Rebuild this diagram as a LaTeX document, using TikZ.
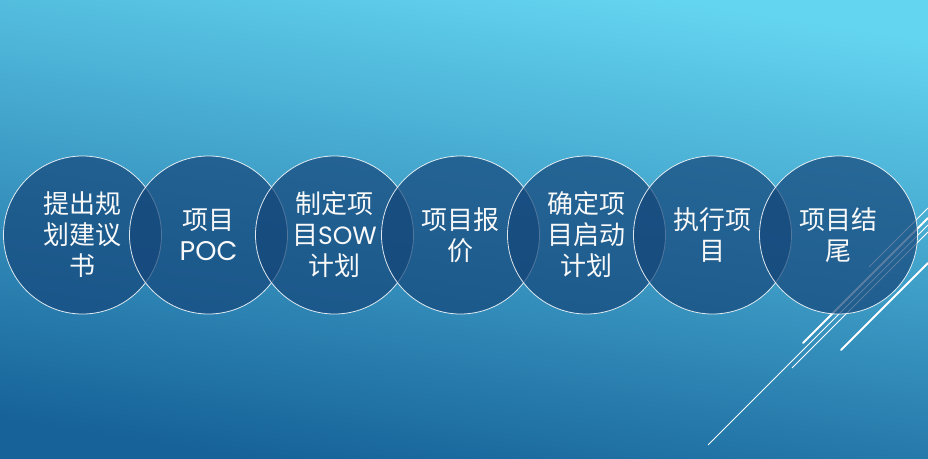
\documentclass[tikz,border=0pt]{standalone}
\usepackage{fontspec}
\newfontfamily\cjk{Noto Sans CJK SC}
\newfontfamily\lat{Poppins}
\definecolor{bgtop}{HTML}{64D5F1}
\definecolor{bgbot}{HTML}{166299}
\definecolor{circfill}{HTML}{15467A}
\begin{document}
\begin{tikzpicture}[x=1pt,y=-1pt,
  stepcircle/.style={circle, draw=white, draw opacity=0.85, line width=0.8pt,
    fill=circfill, fill opacity=0.7, text opacity=1, minimum size=158pt,
    inner sep=0pt, align=center, text=white!95!gray,
    font=\cjk\fontsize{26}{31}\selectfont},
  thinline/.style={white, line width=1pt},
  thickline/.style={white, line width=2pt, line cap=round}]
\useasboundingbox (0,0) rectangle (928,458);
\shade[top color=bgtop, bottom color=bgbot, shading angle=-9] (0,0) rectangle (928,458);
% decorative lines
\coordinate (a1) at (708,445); \coordinate (a2) at (928,225);
\coordinate (b1) at (792,368); \coordinate (b2) at (928,232);
\coordinate (k1) at (803,343); \coordinate (k2) at (928,218);
\coordinate (d1) at (841,350); \coordinate (d2) at (928,263);
\coordinate (e1) at (869,267); \coordinate (e2) at (928,208);
\draw[thinline] (a1) -- (a2);
\draw[thinline] (b1) -- (b2);
\draw[thickline] (k1) -- (k2);
\draw[thickline] (d1) -- (d2);
\draw[thinline] (e1) -- (e2);
% circles
\node[stepcircle] (c1) at (82.5,235) {提出规\\划建议\\书};
\node[stepcircle] (c2) at (208.5,235) {项目\\{\lat\fontsize{27}{31}\selectfont POC}};
\node[stepcircle] (c3) at (334.5,235) {制定项\\目{\lat\fontsize{25}{31}\selectfont SOW}\\计划};
\node[stepcircle] (c4) at (460.5,235) {项目报\\价};
\node[stepcircle] (c5) at (586.5,235) {确定项\\目启动\\计划};
\node[stepcircle] (c6) at (712.5,235) {执行项\\目};
\node[stepcircle] (c7) at (838.5,235) {项目结\\尾};
\end{tikzpicture}
\end{document}
